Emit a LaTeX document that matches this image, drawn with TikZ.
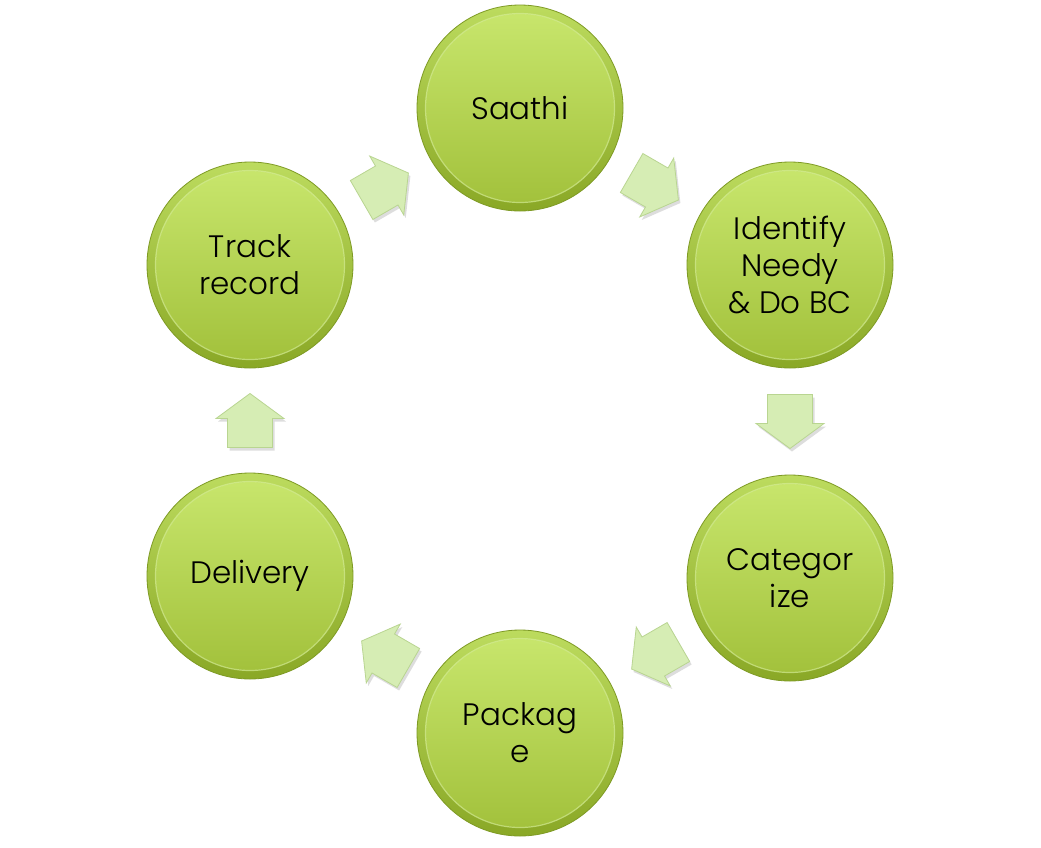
\documentclass[tikz,border=0pt]{standalone}
\usepackage{fontspec}
\setmainfont{Poppins}[UprightFont=* Light]
\usetikzlibrary{calc,backgrounds}
\definecolor{outerTop}{HTML}{BCDB5E}
\definecolor{outerBot}{HTML}{8AA826}
\definecolor{rimDark}{HTML}{7E9A24}
\definecolor{innerTop}{HTML}{C9E76E}
\definecolor{innerBot}{HTML}{A1C03A}
\definecolor{innerHi}{HTML}{D6EE96}
\definecolor{arrowFill}{HTML}{D6EDB4}
\definecolor{arrowEdge}{HTML}{B9D591}
\newcommand\flowarrow[3]{%
  \fill[black!60, opacity=0.22, shift={($(#1)!0.5!(#2)$)}, shift={(2,3)}, rotate=#3]
    (-27,-22.5) -- (2,-22.5) -- (2,-34) -- (27,0) -- (2,34) -- (2,22.5) -- (-27,22.5) -- cycle;
  \filldraw[arrowstyle, shift={($(#1)!0.5!(#2)$)}, rotate=#3]
    (-27,-22.5) -- (2,-22.5) -- (2,-34) -- (27,0) -- (2,34) -- (2,22.5) -- (-27,22.5) -- cycle;
}
\begin{document}
\begin{tikzpicture}[x=1pt,y=-1pt,
  bubble/.style={circle, minimum size=206pt, inner sep=0pt, align=center,
    font=\fontsize{31}{37}\selectfont,
    top color=outerTop, bottom color=outerBot, draw=rimDark, line width=0.8pt,
    path picture={
      \shade[top color=innerTop, bottom color=innerBot]
        (path picture bounding box.center) circle (94);
      \draw[innerHi, line width=1.2pt, opacity=0.7]
        (path picture bounding box.center) circle (94.5);
    }},
  arrowstyle/.style={fill=arrowFill, draw=arrowEdge, line width=0.8pt}]
\useasboundingbox[fill=white] (0,0) rectangle (1041,847);
\node[bubble] (saathi)   at (520,108) {Saathi};
\node[bubble] (identify) at (790,265) {Identify\\Needy\\\& Do BC};
\node[bubble] (categ)    at (790,578) {Categor\\ize};
\node[bubble] (package)  at (520,733) {Packag\\e};
\node[bubble] (delivery) at (250,576) {Delivery};
\node[bubble] (track)    at (250,265) {Track\\record};
\begin{scope}[on background layer]
  \foreach \n in {saathi,identify,categ,package,delivery,track}{
    \foreach \r/\o in {108/0.05,106/0.07,104.5/0.1}{
      \fill[black,opacity=\o] ($(\n)+(1,4)$) circle (\r);
    }
  }
\end{scope}
\flowarrow{track}{saathi}{30}
\flowarrow{saathi}{identify}{-30}
\flowarrow{identify}{categ}{-90}
\flowarrow{categ}{package}{-150}
\flowarrow{package}{delivery}{150}
\flowarrow{delivery}{track}{90}
\end{tikzpicture}
\end{document}
